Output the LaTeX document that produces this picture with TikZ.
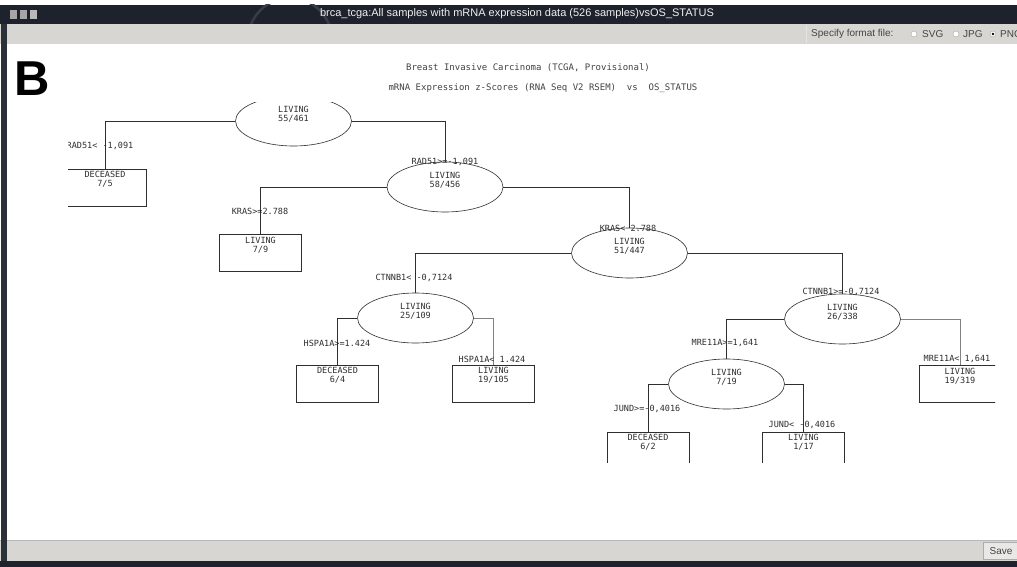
\documentclass[tikz,border=0pt]{standalone}
\usepackage{fontspec}
\setmainfont{Liberation Sans}
\newfontfamily\treefont{DejaVu Sans Mono}
\newfontfamily\boldsans{Liberation Sans}
\usetikzlibrary{shapes.geometric}
\definecolor{barbg}{HTML}{1D222C}
\definecolor{toolbg}{HTML}{D8D6D2}
\definecolor{ink}{HTML}{2E2E2E}
\definecolor{tooltext}{HTML}{454545}
\begin{document}
\begin{tikzpicture}[x=1pt,y=-1pt,
  ell/.style={ellipse, draw=ink, line width=0.6pt, minimum width=116pt, minimum height=50pt, inner sep=0pt},
  leaf/.style={rectangle, draw=ink, line width=0.6pt, minimum width=82pt, minimum height=37pt, inner sep=0pt},
  txt/.style={font=\treefont\fontsize{8.5}{9}\selectfont, text=ink, align=center, inner sep=0pt},
  lbl/.style={font=\treefont\fontsize{8.5}{9}\selectfont, text=ink, inner sep=0pt},
  edge/.style={draw=ink, line width=0.6pt},
  ttl/.style={font=\treefont\fontsize{9}{10}\selectfont, text=ink!90, inner sep=0pt},
  tooltxt/.style={font=\fontsize{10}{12}\selectfont, text=tooltext, inner sep=0pt, anchor=west},
  radio/.style={circle, draw=gray!70, fill=white, minimum size=6pt, inner sep=0pt},
]
\useasboundingbox (0,0) rectangle (1017,567);
% window chrome
\fill[white] (0,0) rectangle (1017,567);
\fill[barbg] (0,5) rectangle (1017,24);
\begin{scope}
  \clip (0,5) rectangle (1017,24);
  \draw[barbg!88!white, line width=2.5pt] (290,40) circle (42);
\end{scope}
\fill[gray!70] (10,10) rectangle (17,19);
\fill[gray!70] (20,10) rectangle (27,19);
\fill[gray!55] (30,10) rectangle (37,19);
\node[font=\fontsize{11}{13}\selectfont, text=white!88!gray, inner sep=0pt] (wintitle) at (517,14)
  {brca\_tcga:All samples with mRNA expression data (526 samples)vsOS\_STATUS};
\fill[toolbg] (0,24) rectangle (1017,44);
\draw[white!80!gray] (806,25) -- (806,43);
\node[tooltxt] (spec) at (811,34) {Specify format file:};
\node[radio] (r1) at (914,34) {};
\node[tooltxt] (svg) at (922,34) {SVG};
\node[radio] (r2) at (956,34) {};
\node[tooltxt] (jpg) at (963,34) {JPG};
\node[radio] (r3) at (993,34) {};
\fill[black] (r3.center) circle (1.3);
\node[tooltxt] (png) at (1000,34) {PNG};
\fill[white] (0,44) rectangle (1017,540);
\fill[toolbg] (0,540) rectangle (1017,561);
\draw[gray!55] (0,540.5) -- (1017,540.5);
\draw[gray!65, fill=toolbg!55!white] (983,542) rectangle (1020,559);
\node[font=\fontsize{10}{12}\selectfont, text=tooltext, inner sep=0pt] (save) at (1001,551) {Save};
\fill[barbg] (0,561) rectangle (1017,567);
\fill[barbg!85!gray] (1,24) rectangle (7,561);
% panel letter
\node[font=\boldsans\bfseries\fontsize{49}{49}\selectfont, inner sep=0pt, anchor=west] (B) at (14,79) {B};
% title
\node[ttl] (t1) at (528,68) {Breast Invasive Carcinoma (TCGA, Provisional)};
\node[ttl] (t2) at (543,88) {mRNA Expression z-Scores (RNA Seq V2 RSEM)\ \ vs\ \ OS\_STATUS};
% tree
\begin{scope}
\clip (68,103) rectangle (995,462);
\node[ell] (e1) at (293.5,121) {};
\node[ell] (e2) at (445,187) {};
\node[ell] (e3) at (629.5,253) {};
\node[ell] (e4) at (415.5,318) {};
\node[ell] (e5) at (842.5,319) {};
\node[ell] (e6) at (726.5,384) {};
\node[leaf] (b1) at (105,187.5) {};
\node[leaf] (b2) at (260.5,253) {};
\node[leaf] (b3) at (337.5,383.5) {};
\node[leaf] (b4) at (493.5,383.5) {};
\node[leaf] (b5) at (960,384) {};
\node[leaf] (b6) at (648,450.5) {};
\node[leaf] (b7) at (803.5,450.5) {};
\node[txt] (e1t) at ([yshift=6.5pt]e1.center) {LIVING\\55/461};
\node[txt] (e2t) at ([yshift=6.5pt]e2.center) {LIVING\\58/456};
\node[txt] (e3t) at ([yshift=6.5pt]e3.center) {LIVING\\51/447};
\node[txt] (e4t) at ([yshift=6.5pt]e4.center) {LIVING\\25/109};
\node[txt] (e5t) at ([yshift=6.5pt]e5.center) {LIVING\\26/338};
\node[txt] (e6t) at ([yshift=6.5pt]e6.center) {LIVING\\7/19};
\node[txt] (b1t) at ([yshift=8pt]b1.center) {DECEASED\\7/5};
\node[txt] (b2t) at ([yshift=8pt]b2.center) {LIVING\\7/9};
\node[txt] (b3t) at ([yshift=8pt]b3.center) {DECEASED\\6/4};
\node[txt] (b4t) at ([yshift=8pt]b4.center) {LIVING\\19/105};
\node[txt] (b5t) at ([yshift=8pt]b5.center) {LIVING\\19/319};
\node[txt] (b6t) at ([yshift=8pt]b6.center) {DECEASED\\6/2};
\node[txt] (b7t) at ([yshift=8pt]b7.center) {LIVING\\1/17};
\draw[edge] (e1.west) -| (b1.north);
\draw[edge] (e1.east) -| (e2.north);
\draw[edge] (e2.west) -| (b2.north);
\draw[edge] (e2.east) -| (e3.north);
\draw[edge] (e3.west) -| (e4.north);
\draw[edge] (e3.east) -| (e5.north);
\draw[edge] (e4.west) -| (b3.north);
\draw[edge, draw=ink!60] (e4.east) -| (b4.north);
\draw[edge] (e5.west) -| (e6.north);
\draw[edge, draw=ink!60] (e5.east) -| (b5.north);
\draw[edge] (e6.west) -| (b6.north);
\draw[edge] (e6.east) -| (b7.north);
\node[lbl] (l1) at (100,146) {RAD51<\ -1,091};
\node[lbl] (l2) at (445,162) {RAD51>=-1,091};
\node[lbl] (l3) at (260,211) {KRAS>=2.788};
\node[lbl] (l4) at (628,228) {KRAS<\ 2.788};
\node[lbl] (l5) at (414,278) {CTNNB1<\ -0,7124};
\node[lbl] (l6) at (841,292) {CTNNB1>=-0,7124};
\node[lbl] (l7) at (337,343) {HSPA1A>=1.424};
\node[lbl] (l8) at (492,359) {HSPA1A<\ 1.424};
\node[lbl] (l9) at (725,343) {MRE11A>=1,641};
\node[lbl] (l10) at (957,359) {MRE11A<\ 1,641};
\node[lbl] (l11) at (647,409) {JUND>=-0,4016};
\node[lbl] (l12) at (802,425) {JUND<\ -0,4016};
\end{scope}
\end{tikzpicture}
\end{document}
